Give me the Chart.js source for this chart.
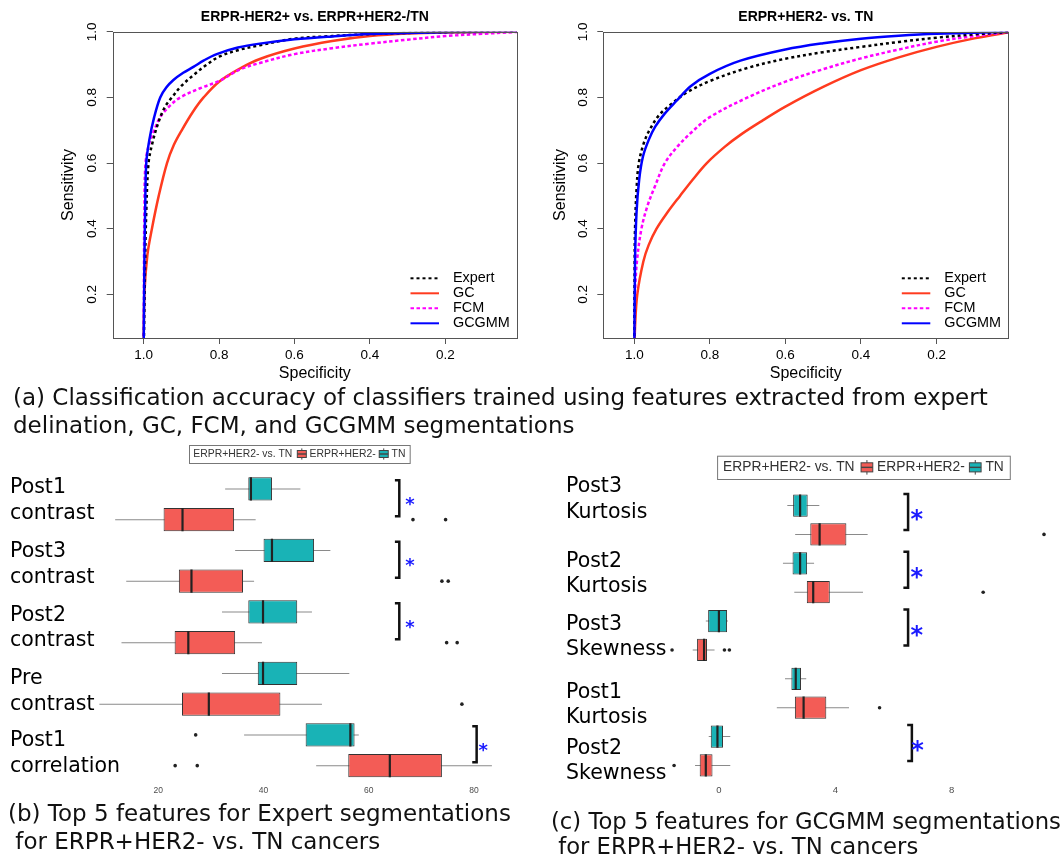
<!DOCTYPE html>
<html>
<head>
<meta charset="utf-8">
<script src="https://cdn.jsdelivr.net/npm/chart.js@4.4.1/dist/chart.umd.min.js"></script>
<style>
  body { margin: 0; width: 1064px; height: 858px; background: #fff; position: relative; overflow: hidden; }
  canvas { position: absolute; }
  .cap { position: absolute; font-family: 'DejaVu Sans', sans-serif; font-size: 23px; color: #111; white-space: pre; }
</style>
</head>
<body>
<canvas id="rocA" width="530" height="400" style="left:0;top:0"></canvas>
<canvas id="rocB" width="540" height="400" style="left:490px;top:0"></canvas>
<canvas id="boxA" width="530" height="360" style="left:0;top:440px"></canvas>
<canvas id="boxB" width="524" height="350" style="left:540px;top:450px"></canvas>

<div class="cap" style="left:13px;top:383px;line-height:28.4px">(a) Classification accuracy of classifiers trained using features extracted from expert
delination, GC, FCM, and GCGMM segmentations</div>
<div class="cap" style="left:8px;top:799px;line-height:28.4px">(b) Top 5 features for Expert segmentations
 for ERPR+HER2- vs. TN cancers</div>
<div class="cap" style="left:551px;top:809px;line-height:25px;font-size:22.7px">(c) Top 5 features for GCGMM segmentations
 for ERPR+HER2- vs. TN cancers</div>

<script>
// ---------- ROC data: [specificity, sensitivity] ----------
const methods = ['Expert', 'GC', 'FCM', 'GCGMM'];
const specTicks = [1.0, 0.8, 0.6, 0.4, 0.2];
const sensTicks = [0.2, 0.4, 0.6, 0.8, 1.0];

// ERPR-HER2+ vs. ERPR+HER2-/TN
const rocA_expert = [[1, 0], [0.996, 0.3], [0.993, 0.45], [0.987, 0.6], [0.977, 0.66], [0.962, 0.72], [0.944, 0.77], [0.925, 0.8], [0.9, 0.835], [0.868, 0.868], [0.835, 0.898], [0.8, 0.924], [0.75, 0.944], [0.692, 0.959], [0.6, 0.979], [0.5, 0.987], [0.4, 0.993], [0.2, 0.999], [0, 1]];
const rocA_gc = [[1, 0], [0.998, 0.2], [0.99, 0.32], [0.978, 0.4], [0.96, 0.5], [0.938, 0.6], [0.92, 0.655], [0.899, 0.7], [0.87, 0.755], [0.841, 0.8], [0.8, 0.848], [0.745, 0.888], [0.69, 0.918], [0.6, 0.949], [0.5, 0.972], [0.4, 0.987], [0.3, 0.995], [0.2, 0.998], [0, 1]];
const rocA_fcm = [[1, 0], [0.999, 0.3], [0.998, 0.45], [0.995, 0.6], [0.985, 0.66], [0.972, 0.7], [0.956, 0.74], [0.93, 0.775], [0.903, 0.8], [0.85, 0.828], [0.8, 0.85], [0.745, 0.885], [0.692, 0.905], [0.6, 0.932], [0.5, 0.95], [0.4, 0.964], [0.3, 0.976], [0.2, 0.987], [0.1, 0.994], [0, 1]];
const rocA_gcgmm = [[1, 0], [0.998, 0.3], [0.996, 0.45], [0.993, 0.6], [0.985, 0.67], [0.972, 0.74], [0.956, 0.8], [0.94, 0.83], [0.921, 0.853], [0.895, 0.875], [0.868, 0.893], [0.84, 0.913], [0.806, 0.932], [0.75, 0.952], [0.692, 0.964], [0.6, 0.977], [0.5, 0.986], [0.4, 0.993], [0.2, 0.999], [0, 1]];

// ERPR+HER2- vs. TN
const rocB_expert = [[1, 0], [0.999, 0.3], [0.998, 0.4], [0.994, 0.52], [0.988, 0.6], [0.975, 0.66], [0.96, 0.7], [0.935, 0.745], [0.905, 0.777], [0.861, 0.815], [0.8, 0.85], [0.7, 0.89], [0.6, 0.918], [0.5, 0.938], [0.4, 0.954], [0.3, 0.969], [0.2, 0.982], [0.1, 0.992], [0, 1]];
const rocB_gc = [[1, 0], [0.998, 0.1], [0.992, 0.2], [0.976, 0.3], [0.962, 0.35], [0.941, 0.4], [0.912, 0.45], [0.879, 0.5], [0.845, 0.55], [0.808, 0.6], [0.76, 0.65], [0.719, 0.686], [0.66, 0.73], [0.6, 0.772], [0.5, 0.832], [0.4, 0.883], [0.3, 0.922], [0.2, 0.954], [0.1, 0.98], [0, 1]];
const rocB_fcm = [[1, 0], [0.998, 0.2], [0.993, 0.3], [0.981, 0.4], [0.965, 0.47], [0.945, 0.53], [0.919, 0.6], [0.886, 0.65], [0.852, 0.69], [0.8, 0.74], [0.7, 0.8], [0.6, 0.848], [0.5, 0.886], [0.4, 0.919], [0.3, 0.946], [0.2, 0.97], [0.1, 0.987], [0, 1]];
const rocB_gcgmm = [[1, 0], [0.998, 0.3], [0.994, 0.45], [0.987, 0.55], [0.977, 0.62], [0.962, 0.67], [0.945, 0.71], [0.92, 0.75], [0.888, 0.79], [0.85, 0.835], [0.8, 0.872], [0.719, 0.912], [0.6, 0.946], [0.5, 0.965], [0.4, 0.979], [0.3, 0.988], [0.2, 0.994], [0, 1]];

// ---------- box plot data ----------
const comparison = 'ERPR+HER2- vs. TN';
const groups = ['ERPR+HER2-', 'TN'];

const expertFeatures = [['Post1', 'contrast'], ['Post3', 'contrast'], ['Post2', 'contrast'], ['Pre', 'contrast'], ['Post1', 'correlation']];
const expertTicks = [20, 40, 60, 80];
const expertTnLo = [32.7, 34.6, 32.1, 32.1, 36.3];
const expertTnQ1 = [37.1, 40.0, 37.1, 38.9, 48.0];
const expertTnMed = [37.6, 41.6, 39.9, 39.9, 56.5];
const expertTnQ3 = [41.6, 49.6, 46.4, 46.4, 57.3];
const expertTnHi = [47.0, 52.7, 49.2, 56.3, 58.1];
const expertTnOut = [[], [], [], [], [27.1]];
const expertErLo = [11.8, 13.9, 13.0, 8.8, 50.0];
const expertErQ1 = [21.0, 23.9, 23.1, 24.5, 56.1];
const expertErMed = [24.6, 26.3, 25.7, 29.6, 64.0];
const expertErQ3 = [34.4, 36.1, 34.6, 43.2, 73.9];
const expertErHi = [38.5, 38.2, 39.7, 51.1, 83.4];
const expertErOut = [[68.4, 74.6], [73.9, 75.1], [74.8, 76.8], [77.7], [23.2, 27.4]];
const expertSig = [true, true, true, false, true];

const gcgmmFeatures = [['Post3', 'Kurtosis'], ['Post2', 'Kurtosis'], ['Post3', 'Skewness'], ['Post1', 'Kurtosis'], ['Post2', 'Skewness']];
const gcgmmTicks = [0, 4, 8];
const gcgmmTnLo = [2.35, 2.20, -0.45, 2.27, -0.35];
const gcgmmTnQ1 = [2.55, 2.53, -0.37, 2.49, -0.28];
const gcgmmTnMed = [2.79, 2.79, 0.0, 2.64, -0.05];
const gcgmmTnQ3 = [3.05, 3.03, 0.28, 2.82, 0.14];
const gcgmmTnHi = [3.45, 3.27, 0.31, 3.0, 0.39];
const gcgmmTnOut = [[], [], [], [], []];
const gcgmmErLo = [2.62, 2.59, -0.90, 1.99, -0.82];
const gcgmmErQ1 = [3.14, 3.02, -0.75, 2.61, -0.66];
const gcgmmErMed = [3.46, 3.24, -0.51, 2.91, -0.45];
const gcgmmErQ3 = [4.38, 3.81, -0.41, 3.69, -0.22];
const gcgmmErHi = [5.11, 4.95, -0.15, 4.47, 0.39];
const gcgmmErOut = [[11.17], [9.08], [-1.61, 0.19, 0.36], [5.52], [-1.54]];
const gcgmmSig = [true, true, true, false, true];

Chart.defaults.font.family = '"Liberation Sans", Arial, sans-serif';
Chart.defaults.color = '#000';

// ---------- ROC charts ----------
const frame = {
  id: 'frame',
  afterDatasetsDraw(chart) {
    const a = chart.chartArea, c = chart.ctx;
    c.save();
    c.strokeStyle = '#555';
    c.lineWidth = 1;
    c.strokeRect(Math.round(a.left) + 0.5, Math.round(a.top) + 0.5, Math.round(a.right - a.left), Math.round(a.bottom - a.top));
    c.restore();
  }
};

const rocLegend = {
  id: 'rocLegend',
  afterDraw(chart) {
    const a = chart.chartArea, c = chart.ctx;
    c.save();
    c.font = '14.4px "Liberation Sans", Arial';
    c.textBaseline = 'middle';
    chart.data.datasets.forEach((d, i) => {
      const y = a.bottom - 59.7 + 15 * i;
      c.strokeStyle = d.borderColor;
      c.lineWidth = 2;
      c.setLineDash(d.borderDash || []);
      c.beginPath(); c.moveTo(a.right - 106.5, y); c.lineTo(a.right - 78, y); c.stroke();
      c.setLineDash([]);
      c.fillStyle = '#000';
      c.fillText(d.label, a.right - 64, y);
    });
    c.restore();
  }
};

const styles = [
  { color: '#000000', dash: [3, 3], order: 1 },
  { color: '#ff3b1f', dash: [], order: 3 },
  { color: '#ff00ff', dash: [3.5, 2.5], order: 2 },
  { color: '#0000ff', dash: [], order: 0 }
];

function rocChart(id, title, curves, axisW, padRight, sensPad) {
  new Chart(document.getElementById(id), {
    type: 'line',
    data: {
      datasets: curves.map((pts, i) => ({
        label: methods[i],
        data: pts.map(p => ({ x: p[0], y: p[1] })),
        borderColor: styles[i].color,
        borderDash: styles[i].dash,
        order: styles[i].order,
        borderWidth: 2.5,
        pointRadius: 0,
        tension: 0.35,
        fill: false
      }))
    },
    options: {
      responsive: false,
      animation: false,
      events: [],
      layout: { padding: { left: 0, right: padRight, top: 0, bottom: 0 } },
      plugins: {
        legend: { display: false },
        tooltip: { enabled: false },
        title: {
          display: true, text: title, fullSize: false,
          font: { size: 14, weight: 'bold' }, color: '#000',
          padding: { top: 9, bottom: 6 }
        }
      },
      scales: {
        x: {
          type: 'linear', reverse: true, min: 0.01, max: 1.082,
          afterBuildTicks: s => { s.ticks = specTicks.map(v => ({ value: v })); },
          afterFit: s => { s.height = 62; },
          ticks: { font: { size: 13.5 }, color: '#000', padding: 3, maxRotation: 0, callback: v => v.toFixed(1) },
          grid: { drawOnChartArea: false, tickLength: 6, color: '#555' },
          border: { display: false },
          title: { display: true, text: 'Specificity', font: { size: 16 }, color: '#000', padding: { top: 0, bottom: 17 } }
        },
        y: {
          type: 'linear', min: 0.067, max: 1.0,
          afterBuildTicks: s => { s.ticks = sensTicks.map(v => ({ value: v })); },
          afterFit: s => { s.width = axisW; },
          ticks: { font: { size: 13.5 }, color: '#000', padding: 5, minRotation: 90, maxRotation: 90, crossAlign: 'center', callback: v => v.toFixed(1) },
          grid: { drawOnChartArea: false, tickLength: 6, color: '#555' },
          border: { display: false },
          title: { display: true, text: 'Sensitivity', font: { size: 16 }, color: '#000', padding: { top: sensPad, bottom: 0 } }
        }
      }
    },
    plugins: [frame, rocLegend]
  });
}

rocChart('rocA', 'ERPR-HER2+ vs. ERPR+HER2-/TN', [rocA_expert, rocA_gc, rocA_fcm, rocA_gcgmm], 112.7, 13, 58.7);
rocChart('rocB', 'ERPR+HER2- vs. TN', [rocB_expert, rocB_gc, rocB_fcm, rocB_gcgmm], 113.3, 21.7, 61.1);

// ---------- box plots (one category row per feature and group, TN above ERPR+HER2-) ----------
const RED = '#f35c56', TEAL = '#19b3b6';

function drawKey(c, x, cy, w, h, color) {
  c.strokeStyle = '#444';
  c.lineWidth = 1;
  c.beginPath(); c.moveTo(x + w / 2, cy - h * 0.8); c.lineTo(x + w / 2, cy + h * 0.8); c.stroke();
  c.fillStyle = color;
  c.fillRect(x, cy - h / 2, w, h);
  c.strokeRect(x, cy - h / 2, w, h);
  c.lineWidth = 1.4;
  c.beginPath(); c.moveTo(x, cy); c.lineTo(x + w, cy); c.stroke();
}

const boxDeco = {
  id: 'boxDeco',
  afterDraw(chart, args, o) {
    const c = chart.ctx, ys = chart.scales.y, xs = chart.scales.x;
    c.save();
    // feature labels, two text lines per pair of rows
    c.font = '20.5px "DejaVu Sans"';
    c.fillStyle = '#000';
    c.textAlign = 'left';
    c.textBaseline = 'middle';
    o.features.forEach((lab, i) => {
      const cy = (ys.getPixelForValue(2 * i) + ys.getPixelForValue(2 * i + 1)) / 2 + o.labelShift[i];
      lab.forEach((t, k) => c.fillText(t, o.labelX, cy + (k - (lab.length - 1) / 2) * o.lineGap));
    });
    // significance brackets
    const boxes = chart.getDatasetMeta(o.boxIndex);
    o.brackets.forEach(b => {
      if (!o.sig[b.row]) return;
      const t = boxes.data[2 * b.row], e = boxes.data[2 * b.row + 1];
      const top = t.y - t.height / 2 + o.bTop, bot = e.y + o.bBot;
      const x = xs.getPixelForValue(b.x);
      c.strokeStyle = '#111';
      c.lineWidth = 2.5;
      c.beginPath(); c.moveTo(x - o.arm, top); c.lineTo(x, top); c.lineTo(x, bot); c.lineTo(x - o.arm, bot); c.stroke();
      c.fillStyle = '#1a1aff';
      c.font = 'bold ' + o.starSize + 'px "DejaVu Sans"';
      c.textAlign = 'center';
      c.textBaseline = 'alphabetic';
      c.fillText('*', x + b.sx, (top + bot) / 2 + 1.5 + 0.565 * o.starSize);
    });
    // legend
    const L = o.legend, s = L.scale;
    c.font = L.size + 'px "Liberation Sans", Arial';
    c.textAlign = 'left';
    c.textBaseline = 'middle';
    const cy = L.y + L.h / 2;
    let x = L.x + L.pad;
    c.fillStyle = '#333';
    c.fillText(comparison, x, cy);
    x += c.measureText(comparison).width + 5 * s;
    [[groups[0], RED], [groups[1], TEAL]].forEach(([name, col], j) => {
      drawKey(c, x, cy, 9 * s, 7 * s, col);
      x += 12.3 * s;
      c.fillStyle = '#333';
      c.fillText(name, x, cy);
      x += c.measureText(name).width + (j === 0 ? 3.5 * s : 0);
    });
    c.strokeStyle = '#777';
    c.lineWidth = 1;
    c.strokeRect(L.x + 0.5, L.y + 0.5, x + L.pad - L.x, L.h);
    c.restore();
  }
};

function boxChart(id, d, cfg) {
  // rows: feature i -> 2i (TN), 2i+1 (ERPR+HER2-)
  const rows = d.features.flatMap(f => [f.join(' ') + ' | ' + groups[1], f.join(' ') + ' | ' + groups[0]]);
  const pair = (tn, er) => tn.flatMap((v, i) => [v, er[i]]);
  const q1 = pair(d.tnQ1, d.erQ1), q3 = pair(d.tnQ3, d.erQ3);
  const lo = pair(d.tnLo, d.erLo), hi = pair(d.tnHi, d.erHi);
  const med = pair(d.tnMed, d.erMed), out = pair(d.tnOut, d.erOut);

  new Chart(document.getElementById(id), {
    type: 'bar',
    data: {
      labels: rows,
      datasets: [
        {
          type: 'scatter', indexAxis: 'x', yAxisID: 'y',
          data: rows.map((r, k) => ({ x: med[k], y: r })),
          pointStyle: 'line', pointRotation: 90, pointRadius: cfg.half,
          pointBorderColor: '#222', pointBorderWidth: 2.2
        },
        {
          type: 'scatter', indexAxis: 'x', yAxisID: 'y',
          data: rows.flatMap((r, k) => out[k].map(v => ({ x: v, y: r }))),
          pointRadius: 1.8, pointBackgroundColor: '#222', pointBorderWidth: 0
        },
        {
          type: 'bar', yAxisID: 'y', grouped: false,
          data: q1.map((v, k) => [v, q3[k]]),
          backgroundColor: rows.map((r, k) => k % 2 ? RED : TEAL),
          borderColor: '#333', borderWidth: 1, borderSkipped: false,
          barPercentage: cfg.bp, categoryPercentage: 1
        },
        {
          type: 'bar', yAxisID: 'y', grouped: false,
          data: lo.map((v, k) => [v, hi[k]]),
          backgroundColor: '#8a8a8a', maxBarThickness: 1, categoryPercentage: 1
        }
      ]
    },
    options: {
      indexAxis: 'y',
      responsive: false,
      animation: false,
      events: [],
      layout: { padding: { left: 0, right: cfg.padRight, top: cfg.padTop, bottom: 0 } },
      plugins: { legend: { display: false }, tooltip: { enabled: false }, boxDeco: Object.assign({ features: d.features, boxIndex: 2 }, cfg.deco) },
      scales: {
        y: {
          type: 'category', offset: true,
          afterFit: s => { s.width = cfg.axisW; },
          ticks: { display: false },
          grid: { display: false, drawTicks: false },
          border: { display: false }
        },
        x: {
          type: 'linear', min: cfg.min, max: cfg.max, stacked: false,
          afterBuildTicks: s => { s.ticks = d.ticks.map(v => ({ value: v })); },
          afterFit: s => { s.height = cfg.axisH; },
          ticks: { font: { size: cfg.tickSize }, color: '#4d4d4d', padding: cfg.tickPad },
          grid: { display: false, drawTicks: false },
          border: { display: false }
        }
      }
    },
    plugins: [boxDeco]
  });
}

boxChart('boxA', {
  features: expertFeatures, ticks: expertTicks,
  tnLo: expertTnLo, tnQ1: expertTnQ1, tnMed: expertTnMed, tnQ3: expertTnQ3, tnHi: expertTnHi, tnOut: expertTnOut,
  erLo: expertErLo, erQ1: expertErQ1, erMed: expertErMed, erQ3: expertErQ3, erHi: expertErHi, erOut: expertErOut
}, {
  min: 5, max: 88, axisW: 79.4, axisH: 19, padTop: 33.5, padRight: 10.9,
  bp: 0.76, half: 11.7, tickSize: 8.5, tickPad: 5,
  deco: {
    labelX: 10, lineGap: 25.6, labelShift: [-3.75, -1.25, 1, 2.75, 3.5],
    sig: expertSig, bTop: 3, bBot: -3.5, arm: 4.4, starSize: 18,
    brackets: [{ row: 0, x: 65.8, sx: 10.6 }, { row: 1, x: 65.8, sx: 10.6 }, { row: 2, x: 65.8, sx: 10.6 }, { row: 3, x: 65.8, sx: 10.6 }, { row: 4, x: 80.5, sx: 6.5 }],
    legend: { x: 189, y: 5, h: 18, size: 10.4, pad: 4.3, scale: 1 }
  }
});

boxChart('boxB', {
  features: gcgmmFeatures, ticks: gcgmmTicks,
  tnLo: gcgmmTnLo, tnQ1: gcgmmTnQ1, tnMed: gcgmmTnMed, tnQ3: gcgmmTnQ3, tnHi: gcgmmTnHi, tnOut: gcgmmTnOut,
  erLo: gcgmmErLo, erQ1: gcgmmErQ1, erMed: gcgmmErMed, erQ3: gcgmmErQ3, erHi: gcgmmErHi, erOut: gcgmmErOut
}, {
  min: -2, max: 11.4, axisW: 120.7, axisH: 20.1, padTop: 41.1, padRight: 2.5,
  bp: 0.77, half: 11.1, tickSize: 9.5, tickPad: 5,
  deco: {
    labelX: 26, lineGap: 25.5, labelShift: [-20.5, -3.5, 1.7, 12.1, 10.4],
    sig: gcgmmSig, bTop: -0.5, bBot: -4.5, arm: 4.7, starSize: 24,
    brackets: [{ row: 0, x: 6.5, sx: 8.7 }, { row: 1, x: 6.5, sx: 8.7 }, { row: 2, x: 6.5, sx: 8.7 }, { row: 3, x: 6.5, sx: 8.7 }, { row: 4, x: 6.63, sx: 5.7 }],
    legend: { x: 177.1, y: 5.7, h: 23.3, size: 13.8, pad: 6, scale: 1.3 }
  }
});
</script>
</body>
</html>
